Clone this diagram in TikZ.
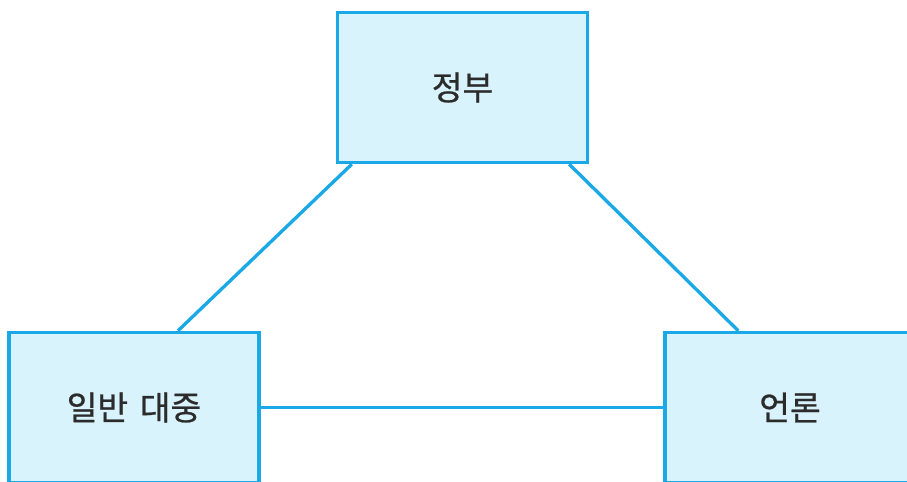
\documentclass[tikz,border=0pt]{standalone}
\usepackage{fontspec}
\newfontfamily\kr[BoldFont={Noto Sans CJK KR},BoldFeatures={FakeBold=0.7}]{Noto Sans CJK KR}
\definecolor{lineblue}{HTML}{1AA9E6}
\definecolor{boxfill}{HTML}{D9F3FC}
\definecolor{txt}{HTML}{2B2B2B}

\begin{document}
\begin{tikzpicture}[x=0.02cm,y=-0.02cm,
    actor/.style={draw=lineblue,fill=boxfill,line width=2pt,minimum width=5cm,minimum height=3cm,inner sep=0pt,text=txt,font=\kr\bfseries\fontsize{19}{22}\selectfont},
    link/.style={draw=lineblue,line width=1.9pt}]
    \useasboundingbox (0,0) rectangle (907,482);
    \clip (0,0) rectangle (907,482);
    \node[actor] (gov) at (462.5,87.5) {정부};
    \node[actor] (public) at (134,407.5) {일반\hspace{0.35em}대중};
    \node[actor] (press) at (790,407.5) {언론};
    \draw[link] ([xshift=0.32cm]gov.south west) -- ([xshift=0.88cm]public.north);
    \draw[link] ([xshift=-0.4cm]gov.south east) -- ([xshift=1.5cm]press.north west);
    \draw[link] (public) -- (press);
  \end{tikzpicture}
\end{document}
